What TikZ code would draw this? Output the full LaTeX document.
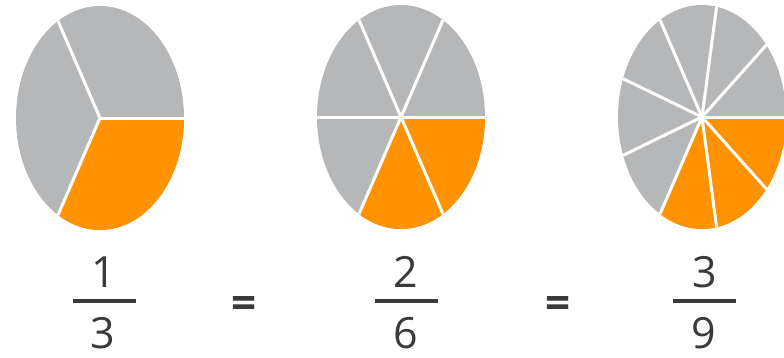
\documentclass[tikz,border=0pt]{standalone}
\usepackage{fontspec}
\setmainfont{Open Sans}
\usetikzlibrary{positioning}
\definecolor{pieGray}{RGB}{182,183,185}
\definecolor{pieOrange}{RGB}{255,146,0}
\definecolor{digitGray}{RGB}{58,58,58}

\begin{document}
\begin{tikzpicture}[
    x=1pt, y=-1pt,
    font=\fontsize{43}{47}\selectfont,
    digit/.style={text=digitGray, inner sep=0pt, text depth=0pt, anchor=base},
    equal/.style={digit, font=\fontsize{44}{47}\selectfont\bfseries},
    fracbar/.style={fill=digitGray, inner sep=0pt, minimum width=63pt, minimum height=4pt},
    cut/.style={draw=white, line width=3pt}
]
\useasboundingbox (0,0) rectangle (784,357);

% pies: gray disc, orange third, white cuts
\foreach \cx/\cy/\parts in {100/118/3, 401/117/6, 702/117/9} {
  \begin{scope}[shift={(\cx,\cy)}, xscale=84, yscale=-112]
    \fill[pieGray] (0,0) circle[radius=1];
    \fill[pieOrange] (0,0) -- (240:1) arc[start angle=240, end angle=360, radius=1] -- cycle;
    \foreach \k in {1,...,\parts}
      \draw[cut] (0,0) -- ({\k*360/\parts}:1);
  \end{scope}
}

% fractions
\node[digit] (num1) at (104,287) {1};
\node[fracbar] (bar1) at (104.5,301) {};
\node[digit] (den1) at (103,348) {3};

\node[equal] (eq1) at (244,318) {=};

\node[digit] (num2) at (406,287) {2};
\node[fracbar] (bar2) at (406.5,301) {};
\node[digit] (den2) at (406,348) {6};

\node[equal] (eq2) at (558.5,318) {=};

\node[digit] (num3) at (705,287) {3};
\node[fracbar] (bar3) at (704,301) {};
\node[digit] (den3) at (704,348) {9};

\end{tikzpicture}
\end{document}
